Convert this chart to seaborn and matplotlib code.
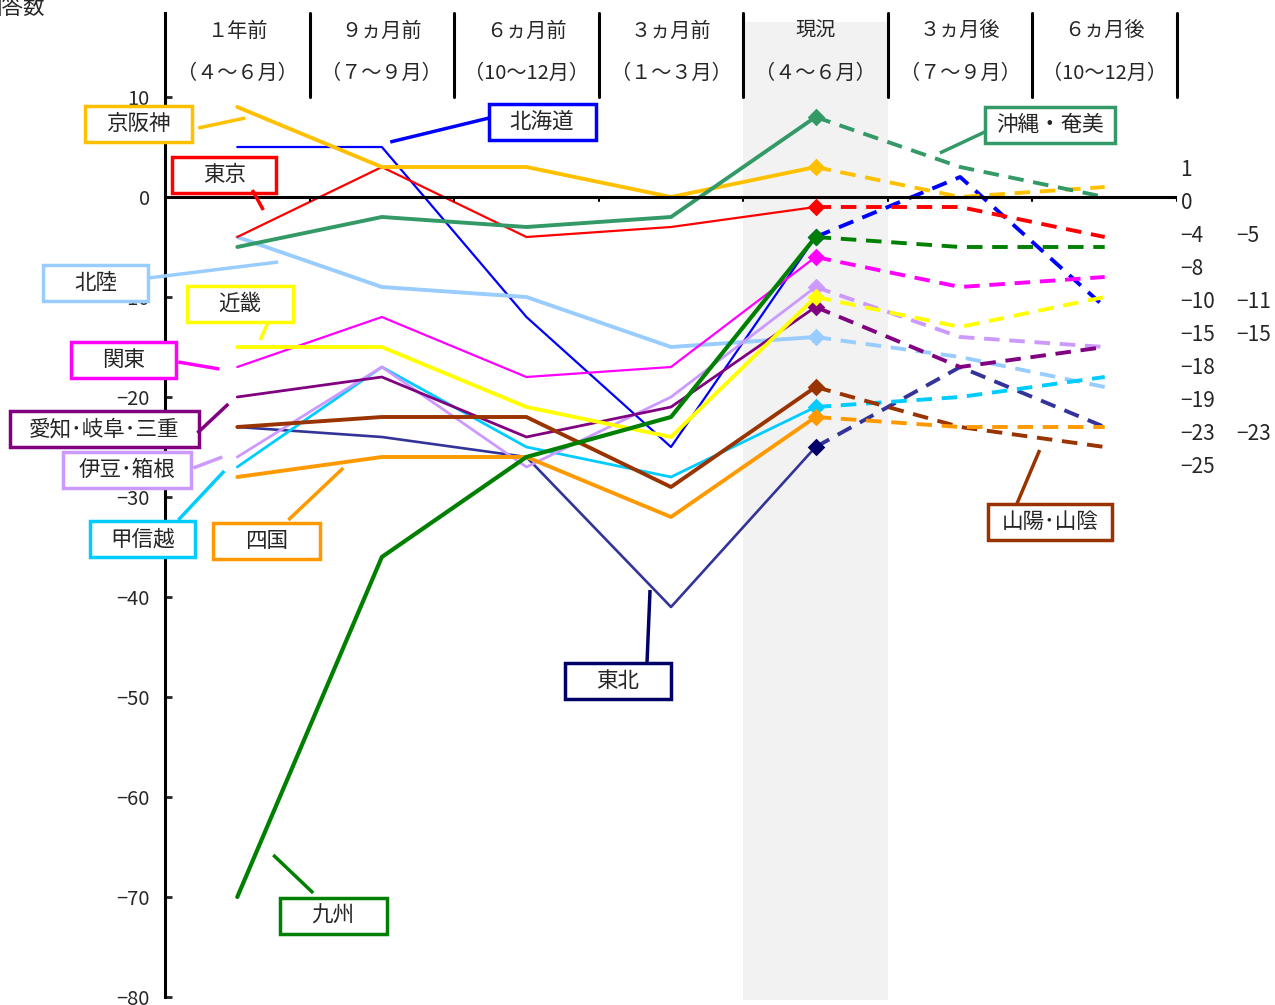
import matplotlib
matplotlib.use("Agg")
import matplotlib.pyplot as plt
from matplotlib.patches import Rectangle
import seaborn as sns

sns.set_theme(style="white")
plt.rcParams["font.family"] = ["Noto Sans CJK JP", "DejaVu Sans"]
plt.rcParams["axes.unicode_minus"] = True

# period headers
periods = ["１年前", "９ヵ月前", "６ヵ月前", "３ヵ月前", "現況", "３ヵ月後", "６ヵ月後"]
months = ["（４～６月）", "（７～９月）", "（10～12月）", "（１～３月）",
          "（４～６月）", "（７～９月）", "（10～12月）"]

# DI values (last two are forecasts)
hokkaido = [5, 5, -12, -25, -4, 2, -11]
tohoku = [-23, -24, -26, -41, -25, -17, -23]
hokuriku = [-4, -9, -10, -15, -14, -16, -19]
kanto = [-17, -12, -18, -17, -6, -9, -8]
koshinetsu = [-27, -17, -25, -28, -21, -20, -18]
izu_hakone = [-26, -17, -27, -20, -9, -14, -15]
tokyo = [-4, 3, -4, -3, -1, -1, -4]
tokai = [-20, -18, -24, -21, -11, -17, -15]
kinki = [-15, -15, -21, -24, -10, -13, -10]
keihanshin = [9, 3, 3, 0, 3, 0, 1]
sanyo_sanin = [-23, -22, -22, -29, -19, -23, -25]
shikoku = [-28, -26, -26, -32, -22, -23, -23]
kyushu = [-70, -36, -26, -22, -4, -5, -5]
okinawa = [-5, -2, -3, -2, 8, 3, 0]

data = {
    "北海道": hokkaido, "東北": tohoku, "北陸": hokuriku, "関東": kanto,
    "甲信越": koshinetsu, "伊豆･箱根": izu_hakone, "東京": tokyo,
    "愛知･岐阜･三重": tokai, "近畿": kinki, "京阪神": keihanshin,
    "山陽･山陰": sanyo_sanin, "四国": shikoku, "九州": kyushu,
    "沖縄・奄美": okinawa,
}

colors = {
    "北海道": "#0000FF", "東北": "#333399", "北陸": "#99CCFF", "関東": "#FF00FF",
    "甲信越": "#00CCFF", "伊豆･箱根": "#CC99FF", "東京": "#FF0000",
    "愛知･岐阜･三重": "#800080", "近畿": "#FFFF00", "京阪神": "#FFC000",
    "山陽･山陰": "#993300", "四国": "#FF9900", "九州": "#008000",
    "沖縄・奄美": "#339966",
}
marker_colors = {"東北": "#000066"}
box_colors = {"東北": "#000066"}

widths = {
    "北海道": 1.6, "東北": 1.9, "北陸": 2.8, "関東": 1.6, "甲信越": 2.0,
    "伊豆･箱根": 2.0, "東京": 1.6, "愛知･岐阜･三重": 2.0, "近畿": 2.8,
    "京阪神": 2.8, "山陽･山陰": 2.8, "四国": 2.8, "九州": 3.0, "沖縄・奄美": 2.8,
}

# rows of the value list printed right of the chart
end_rows = [["京阪神"], ["沖縄・奄美"], ["東京", "九州"], ["関東"], ["近畿", "北海道"],
            ["伊豆･箱根", "愛知･岐阜･三重"], ["甲信越"], ["北陸"], ["四国", "東北"],
            ["山陽･山陰"]]

# callout boxes: centre x, centre y, box width, leader line (x1, y1, x2, y2)
callouts = {
    "京阪神": (-0.684, 7.3, 0.74, (-0.27, 6.9, 0.055, 7.9)),
    "北海道": (2.108, 7.5, 0.74, (1.058, 5.5, 1.742, 7.9)),
    "東京": (-0.09, 2.2, 0.72, (0.104, 0.7, 0.18, -1.3)),
    "沖縄・奄美": (5.62, 7.2, 0.9, (4.86, 4.4, 5.17, 6.5)),
    "北陸": (-0.98, -8.6, 0.73, (-0.615, -8.1, 0.283, -6.5)),
    "近畿": (0.02, -10.7, 0.73, (0.214, -12.5, 0.159, -14.3)),
    "関東": (-0.788, -16.3, 0.73, (-0.408, -16.5, -0.124, -17.2)),
    "愛知･岐阜･三重": (-0.919, -23.2, 1.31, (-0.276, -23.6, -0.062, -20.7)),
    "伊豆･箱根": (-0.76, -27.3, 0.885, (-0.304, -27.1, -0.104, -26.0)),
    "甲信越": (-0.657, -34.2, 0.73, (-0.408, -32.3, -0.09, -27.4)),
    "四国": (0.2, -34.4, 0.74, (0.353, -32.3, 0.733, -27.1)),
    "九州": (0.664, -71.9, 0.74, (0.249, -65.8, 0.525, -69.6)),
    "東北": (2.634, -48.4, 0.73, (2.834, -46.6, 2.855, -39.3)),
    "山陽･山陰": (5.62, -32.5, 0.86, (5.392, -30.7, 5.55, -25.3)),
}

xs = list(range(len(periods)))
now = 4

fig = plt.figure(figsize=(12.75, 10.05), dpi=100)
ax = fig.add_axes([165 / 1275, 1 - 997 / 1005, 1012 / 1275, 984 / 1005])
ax.set_xlim(-0.5, 6.5)
ax.set_ylim(-80, 18.4)

# shaded "current" column
ax.fill_between([now - 0.5, now + 0.5], -80.3, 17.5, color="#F2F2F2", lw=0,
                zorder=0, clip_on=False)

# header separators and labels
for k in range(len(periods)):
    ax.plot([k + 0.5, k + 0.5], [10, 18.4], color="black", lw=2.2, clip_on=False,
            zorder=3)
    ax.plot([k + 0.5, k + 0.5], [0, -0.4], color="black", lw=1.5, zorder=3)
    ax.text(k, 16.6, periods[k], ha="center", va="center", fontsize=14.5)
    ax.text(k, 12.4, months[k], ha="center", va="center", fontsize=14.5)

ax.axhline(0, color="black", lw=2.2, zorder=3)

for name, vals in data.items():
    col = colors[name]
    sns.lineplot(x=xs[:now + 1], y=vals[:now + 1], color=col, lw=widths[name],
                 ax=ax, zorder=2)
    sns.lineplot(x=xs[now:], y=vals[now:], color=col, lw=2.8,
                 linestyle=(0, (4, 2.5)), ax=ax, zorder=2)
    sns.scatterplot(x=[xs[now]], y=[vals[now]], marker="D", s=80,
                    color=marker_colors.get(name, col), linewidth=0, ax=ax, zorder=4)

# value list at the right
for i, row in enumerate(end_rows):
    for j, name in enumerate(row):
        v = data[name][-1]
        ax.text(6.525 + 0.387 * j, 2.7 - 3.3 * i, f"{v}".replace("-", "−"),
                ha="left", va="center", fontsize=15, clip_on=False)

# callout boxes
for name, (cx, cy, w, (x1, y1, x2, y2)) in callouts.items():
    col = box_colors.get(name, colors[name])
    h = 3.6
    ax.add_patch(Rectangle((cx - w / 2, cy - h / 2), w, h, facecolor="white",
                           edgecolor=col, lw=2.5, clip_on=False, zorder=5))
    ax.text(cx, cy, name, ha="center", va="center", fontsize=15.5, zorder=6)
    ax.plot([x1, x2], [y1, y2], color=col, lw=2.5, clip_on=False, zorder=5,
            solid_capstyle="butt")

ax.set_yticks(range(-80, 11, 10))
ax.set_xticks([])
ax.tick_params(axis="y", direction="in", length=5, width=2, pad=11, labelsize=14.5,
               left=True)
for s in ["top", "right", "bottom"]:
    ax.spines[s].set_visible(False)
ax.spines["left"].set_color("black")
ax.spines["left"].set_linewidth(2.2)
ax.set_xlabel("")
ax.set_ylabel("")

fig.text(-20 / 1275, 1 + 3 / 1005, "回答数", ha="left", va="top", fontsize=15.5)

fig.savefig("out.png", dpi=100)
